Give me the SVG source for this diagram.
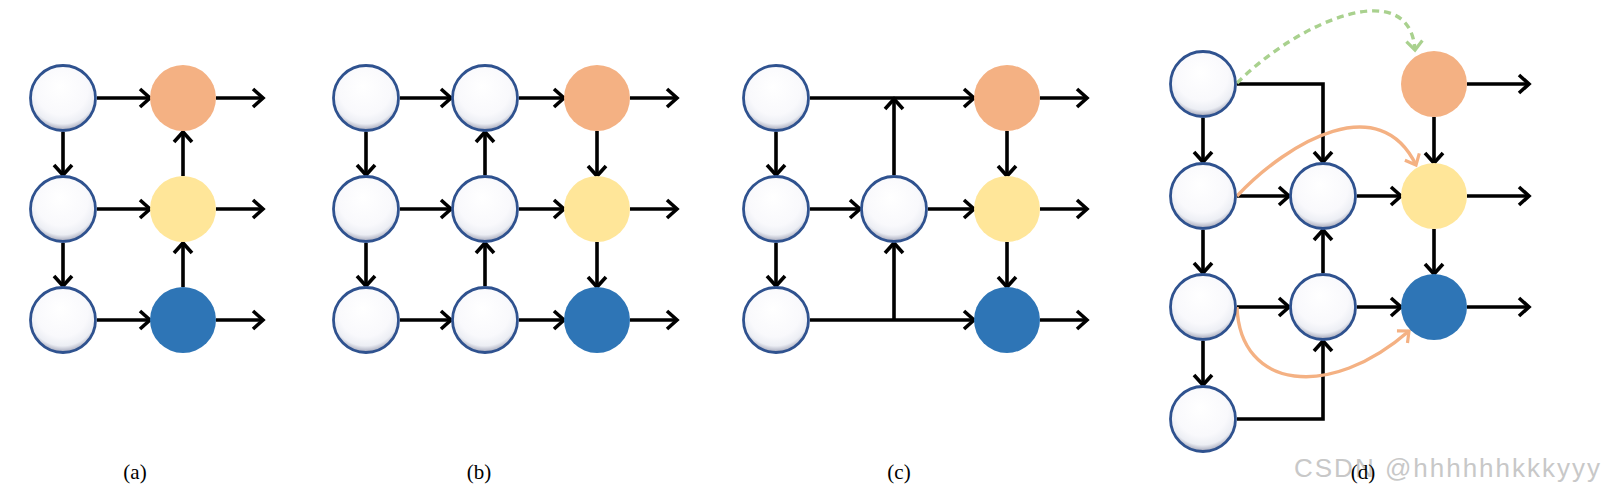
<svg xmlns="http://www.w3.org/2000/svg" width="1602" height="499" viewBox="0 0 1602 499">
<style>
.w{fill:url(#gl);stroke:#2F528F;stroke-width:2.8}
.o{fill:#F4B183}
.y{fill:#FFE699}
.b{fill:#2E75B6}
.c{fill:none;stroke:#000;stroke-width:3.6;marker-end:url(#ah)}
.lab{font-family:"Liberation Serif",serif;font-size:21px;fill:#000;text-anchor:middle}
</style>
<defs>
<radialGradient id="gl" cx="0.5" cy="0.38" r="0.62" fx="0.45" fy="0.32">
<stop offset="0" stop-color="#ffffff"/>
<stop offset="0.65" stop-color="#f9f9fc"/>
<stop offset="0.85" stop-color="#eceef4"/>
<stop offset="0.95" stop-color="#b9bccb"/>
<stop offset="1" stop-color="#9296a8"/>
</radialGradient>
<marker id="ah" markerUnits="userSpaceOnUse" markerWidth="24" markerHeight="24" viewBox="-14 -12 16 24" refX="0" refY="0" orient="auto" overflow="visible">
<path d="M-10,-9 L0,0 L-10,9" fill="none" stroke="#000" stroke-width="3.6"/>
</marker>
<marker id="ahg" markerUnits="userSpaceOnUse" markerWidth="24" markerHeight="24" viewBox="-14 -12 16 24" refX="0" refY="0" orient="auto" overflow="visible">
<path d="M-9,-8 L0,0 L-9,8" fill="none" stroke="#A9D18E" stroke-width="3.2"/>
</marker>
<marker id="aho" markerUnits="userSpaceOnUse" markerWidth="24" markerHeight="24" viewBox="-14 -12 16 24" refX="0" refY="0" orient="auto" overflow="visible">
<path d="M-9,-8 L0,0 L-9,8" fill="none" stroke="#F4B183" stroke-width="3.2"/>
</marker>
</defs>
<rect width="1602" height="499" fill="#fff"/>

<g id="connectors">
<path class="c" d="M97,98 L150,98"/>
<path class="c" d="M97,209 L150,209"/>
<path class="c" d="M97,320 L150,320"/>
<path class="c" d="M216,98 L263,98"/>
<path class="c" d="M216,209 L263,209"/>
<path class="c" d="M216,320 L263,320"/>
<path class="c" d="M63,132 L63,175"/>
<path class="c" d="M63,243 L63,286"/>
<path class="c" d="M183,287 L183,243"/>
<path class="c" d="M183,176 L183,132"/>
<path class="c" d="M400,98 L451,98"/>
<path class="c" d="M400,209 L451,209"/>
<path class="c" d="M400,320 L451,320"/>
<path class="c" d="M519,98 L564,98"/>
<path class="c" d="M519,209 L564,209"/>
<path class="c" d="M519,320 L564,320"/>
<path class="c" d="M630,98 L677,98"/>
<path class="c" d="M630,209 L677,209"/>
<path class="c" d="M630,320 L677,320"/>
<path class="c" d="M366,132 L366,175"/>
<path class="c" d="M366,243 L366,286"/>
<path class="c" d="M485,286 L485,243"/>
<path class="c" d="M485,175 L485,132"/>
<path class="c" d="M597,131 L597,176"/>
<path class="c" d="M597,242 L597,287"/>
<path class="c" d="M810,98 L974,98"/>
<path class="c" d="M894,320 L894,243"/>
<path class="c" d="M894,175 L894,99"/>
<path class="c" d="M810,209 L860,209"/>
<path class="c" d="M928,209 L974,209"/>
<path class="c" d="M810,320 L974,320"/>
<path class="c" d="M1040,98 L1087,98"/>
<path class="c" d="M1040,209 L1087,209"/>
<path class="c" d="M1040,320 L1087,320"/>
<path class="c" d="M776,132 L776,175"/>
<path class="c" d="M776,243 L776,286"/>
<path class="c" d="M1007,131 L1007,176"/>
<path class="c" d="M1007,242 L1007,287"/>
<path class="c" d="M1237,84 L1323,84 L1323,162"/>
<path class="c" d="M1203,118 L1203,162"/>
<path class="c" d="M1203,230 L1203,273"/>
<path class="c" d="M1203,341 L1203,385"/>
<path class="c" d="M1237,196 L1289,196"/>
<path class="c" d="M1357,196 L1401,196"/>
<path class="c" d="M1237,307 L1289,307"/>
<path class="c" d="M1357,307 L1401,307"/>
<path class="c" d="M1237,419 L1323,419 L1323,341"/>
<path class="c" d="M1323,273 L1323,230"/>
<path class="c" d="M1434,117 L1434,163"/>
<path class="c" d="M1434,229 L1434,274"/>
<path class="c" d="M1467,84 L1529,84"/>
<path class="c" d="M1467,196 L1529,196"/>
<path class="c" d="M1467,307 L1529,307"/>
<path d="M1237,83 C1300,20 1410,-25 1415,50" fill="none" stroke="#A9D18E" stroke-width="3.4" stroke-dasharray="7 5" marker-end="url(#ahg)"/>
<path d="M1237,196 C1290,140 1380,90 1416,165" fill="none" stroke="#F4B183" stroke-width="3.4" marker-end="url(#aho)"/>
<path d="M1237,307 C1240,390 1330,400 1409,331" fill="none" stroke="#F4B183" stroke-width="3.4" marker-end="url(#aho)"/>
</g>

<g id="a11"><circle class="w" cx="63" cy="98" r="32.5"/></g>
<g id="a21"><circle class="w" cx="63" cy="209" r="32.5"/></g>
<g id="a31"><circle class="w" cx="63" cy="320" r="32.5"/></g>
<g id="a12"><circle class="o" cx="183" cy="98" r="33"/></g>
<g id="a22"><circle class="y" cx="183" cy="209" r="33"/></g>
<g id="a32"><circle class="b" cx="183" cy="320" r="33"/></g>

<g id="b11"><circle class="w" cx="366" cy="98" r="32.5"/></g>
<g id="b21"><circle class="w" cx="366" cy="209" r="32.5"/></g>
<g id="b31"><circle class="w" cx="366" cy="320" r="32.5"/></g>
<g id="b12"><circle class="w" cx="485" cy="98" r="32.5"/></g>
<g id="b22"><circle class="w" cx="485" cy="209" r="32.5"/></g>
<g id="b32"><circle class="w" cx="485" cy="320" r="32.5"/></g>
<g id="b13"><circle class="o" cx="597" cy="98" r="33"/></g>
<g id="b23"><circle class="y" cx="597" cy="209" r="33"/></g>
<g id="b33"><circle class="b" cx="597" cy="320" r="33"/></g>

<g id="c11"><circle class="w" cx="776" cy="98" r="32.5"/></g>
<g id="c21"><circle class="w" cx="776" cy="209" r="32.5"/></g>
<g id="c31"><circle class="w" cx="776" cy="320" r="32.5"/></g>
<g id="c22"><circle class="w" cx="894" cy="209" r="32.5"/></g>
<g id="c13"><circle class="o" cx="1007" cy="98" r="33"/></g>
<g id="c23"><circle class="y" cx="1007" cy="209" r="33"/></g>
<g id="c33"><circle class="b" cx="1007" cy="320" r="33"/></g>

<g id="d11"><circle class="w" cx="1203" cy="84" r="32.5"/></g>
<g id="d21"><circle class="w" cx="1203" cy="196" r="32.5"/></g>
<g id="d31"><circle class="w" cx="1203" cy="307" r="32.5"/></g>
<g id="d41"><circle class="w" cx="1203" cy="419" r="32.5"/></g>
<g id="d22"><circle class="w" cx="1323" cy="196" r="32.5"/></g>
<g id="d32"><circle class="w" cx="1323" cy="307" r="32.5"/></g>
<g id="d13"><circle class="o" cx="1434" cy="84" r="33"/></g>
<g id="d23"><circle class="y" cx="1434" cy="196" r="33"/></g>
<g id="d33"><circle class="b" cx="1434" cy="307" r="33"/></g>

<g id="watermark">
<text x="1294" y="477" font-family="Liberation Sans,sans-serif" font-size="26" fill="#c8c8c8" textLength="306" lengthAdjust="spacing">CSDN @hhhhhhkkkyyy</text>
</g>
<g id="labels">
<text class="lab" x="135" y="479">(a)</text>
<text class="lab" x="479" y="479">(b)</text>
<text class="lab" x="899" y="479">(c)</text>
<text class="lab" x="1363" y="479">(d)</text>
</g>
</svg>
